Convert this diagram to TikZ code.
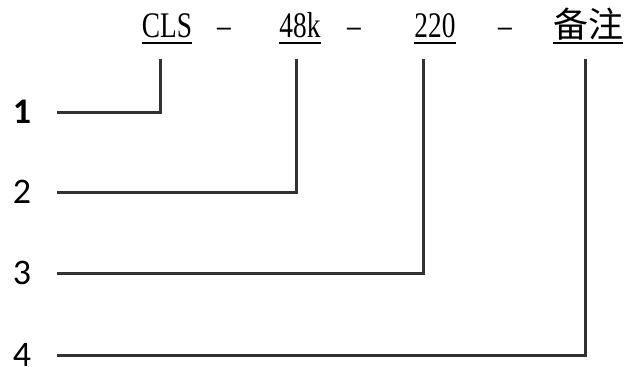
\documentclass[tikz,border=0pt]{standalone}
\usepackage{fontspec}
\usetikzlibrary{positioning, calc}
\newfontfamily\titlefont{Liberation Serif}[FakeStretch=0.76]
\newfontfamily\cjkfont{Noto Sans CJK SC}
\newfontfamily\numfont{Carlito}
\definecolor{linegray}{RGB}{50,50,50}

\begin{document}
\begin{tikzpicture}[
    x=1pt, y=-1pt,
    part/.style={inner sep=0pt, anchor=base, font=\fontsize{36}{40}\selectfont\titlefont},
    sep/.style={inner sep=0pt, anchor=base, font=\fontsize{36}{40}\selectfont\titlefont},
    num/.style={inner sep=3pt, font=\fontsize{36}{40}\selectfont\numfont},
    uline/.style={line width=1.6pt, black},
    link/.style={line width=3pt, linegray, shorten <=23pt}
]
    \useasboundingbox (0,0) rectangle (627,367);

    % code parts
    \node[part] (t1) at (167,37) {CLS};
    \node[sep]  (d1) at (224,37) {–};
    \node[part] (t2) at (300,37) {48k};
    \node[sep]  (d2) at (354,37) {–};
    \node[part] (t3) at (435,37) {220};
    \node[sep]  (d3) at (505,37) {–};
    \node[part, font=\fontsize{35}{40}\selectfont\cjkfont] (t4) at (588,37) {备注};

    \foreach \t in {t1,t2,t3,t4}
        \draw[uline] ([yshift=-6pt]\t.base west) -- ([yshift=-6pt]\t.base east);

    % numbers
    \node[num, font=\fontsize{36}{40}\selectfont\numfont\bfseries] (l1) at (22,112) {1};
    \node[num] (l2) at (22,192) {2};
    \node[num] (l3) at (22,273) {3};
    \node[num] (l4) at (22,355) {4};

    \coordinate (c1) at (160,59);
    \coordinate (c2) at (296,59);
    \coordinate (c3) at (423,59);
    \coordinate (c4) at (585,59);

    \draw[link] (l1) -| (c1);
    \draw[link] (l2) -| (c2);
    \draw[link] (l3) -| (c3);
    \draw[link] (l4) -| (c4);
\end{tikzpicture}
\end{document}
